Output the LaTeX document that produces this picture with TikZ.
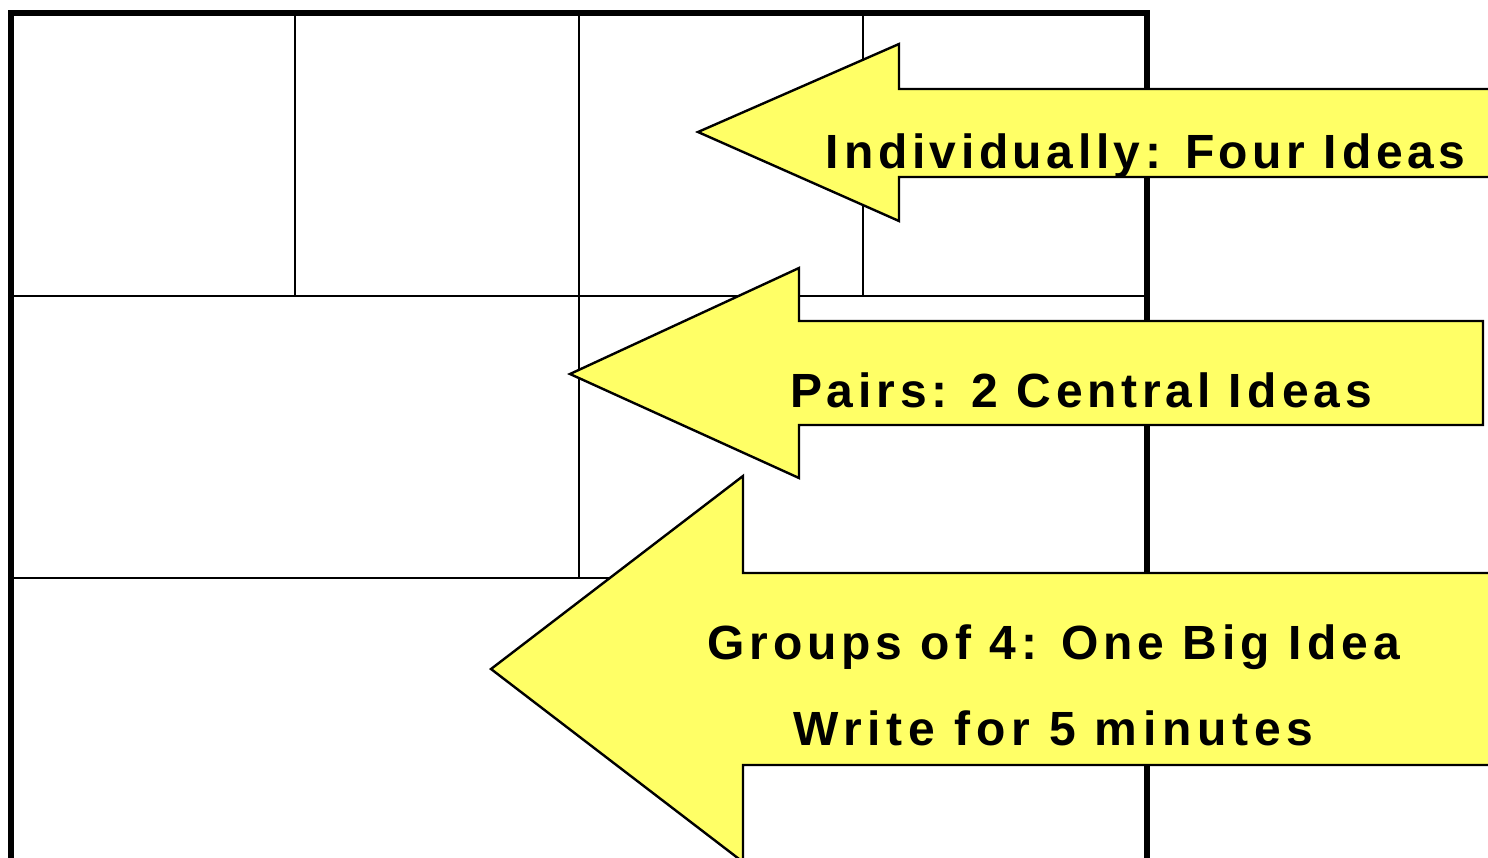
\documentclass[tikz,border=0pt]{standalone}
\usepackage{fontspec}
\setmainfont{Liberation Sans}[LetterSpace=9.5]
\definecolor{arrowyellow}{RGB}{255,255,102}
\tikzset{
  gridline/.style={line width=2.4pt, black},
  frameline/.style={line width=6pt, black},
  bigarrow/.style={fill=arrowyellow, draw=black, line width=2.4pt, line join=miter},
  label/.style={anchor=base west, inner sep=0pt, font=\fontsize{48}{56}\selectfont\bfseries}
}
\newcommand{\Ik}{I\kern0.12em}
\begin{document}
\begin{tikzpicture}[x=1pt,y=-1pt]
\useasboundingbox (0,0) rectangle (1488,857);
\clip (0,0) rectangle (1488,857);
\fill[white] (0,0) rectangle (1488,857);
% grid
\draw[gridline] (295,13) -- (295,296);
\draw[gridline] (579,13) -- (579,578);
\draw[gridline] (863,13) -- (863,296);
\draw[gridline] (11,296) -- (1147,296);
\draw[gridline] (11,578) -- (1147,578);
\draw[frameline] (11,900) -- (11,13) -- (1147,13) -- (1147,900);
% arrows
\draw[bigarrow] (698,132) -- (899,44) -- (899,89) -- (1500,89) -- (1500,177) -- (899,177) -- (899,221) -- cycle;
\draw[bigarrow] (570,374) -- (799,268) -- (799,321) -- (1483,321) -- (1483,425) -- (799,425) -- (799,478) -- cycle;
\draw[bigarrow] (491,669) -- (743,476) -- (743,573) -- (1500,573) -- (1500,765) -- (743,765) -- (743,862) -- cycle;
% labels
\node[label] (t1) at (825,168) {\Ik ndividually: Four \Ik deas};
\node[label] (t2) at (790,407) {\addfontfeature{LetterSpace=10}Pairs: 2 Central \Ik deas};
\node[label] (t3) at (707,659) {\addfontfeature{LetterSpace=10.3}Groups of 4: One Big \Ik dea};
\node[label] (t4) at (793,745) {\addfontfeature{LetterSpace=12}Write for 5 minutes};
\end{tikzpicture}
\end{document}
